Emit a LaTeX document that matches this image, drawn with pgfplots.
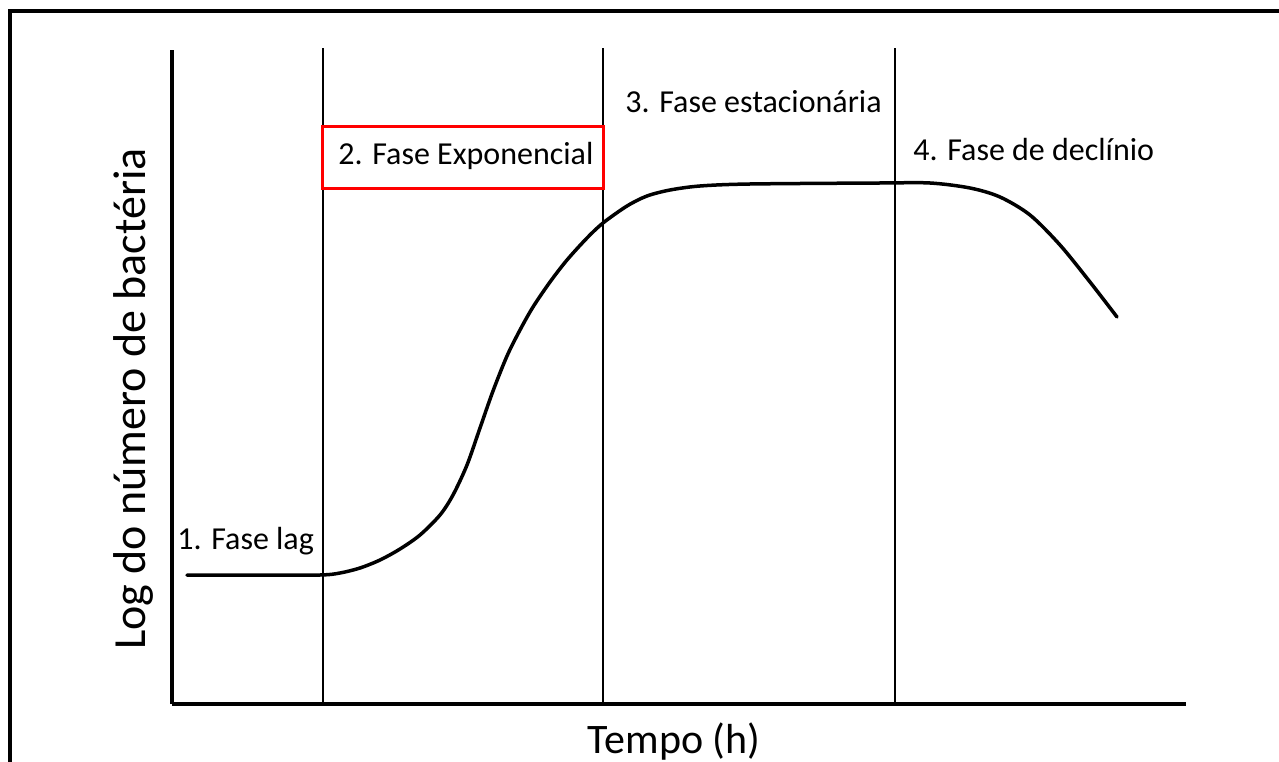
\documentclass[border=0pt]{standalone}
\usepackage{fontspec}
\setmainfont{Carlito}
\usepackage{pgfplots}
\pgfplotsset{compat=1.18}
\begin{document}
\begin{tikzpicture}
\begin{axis}[
  scale only axis,
  width=507pt, height=327pt,
  xmin=172, xmax=1186, ymin=57, ymax=711,
  axis x line=bottom, axis y line=left,
  axis line style={-, line width=1.85pt, black},
  xtick=\empty, ytick=\empty,
  clip=false,
]
\coordinate (bl) at (axis cs:0,0);
\coordinate (tr) at (axis cs:1279,761);
% phase separators
\addplot[black, line width=0.6pt] coordinates {(323,57) (323,713)};
\addplot[black, line width=0.6pt] coordinates {(603,57) (603,713)};
\addplot[black, line width=0.6pt] coordinates {(895,57) (895,713)};
% growth curve
\addplot[black, line width=1.75pt, smooth, line cap=round] coordinates {
(187,186) (260,186) (320,186) (340,188) (360,193) (380,201) (400,212)
(420,226) (440,246) (453,266) (467,296) (480,333) (493,370) (507,405)
(520,431) (533,454) (550,479) (567,501) (587,523) (603,538) (627,555)
(647,565) (670,571) (700,575) (750,577) (880,578) (930,578)
(970,573) (1000,564) (1030,546) (1060,516) (1090,479) (1117,444)};
% red box
\draw[red, line width=1.5pt] (axis cs:322,634) rectangle (axis cs:603,572);
% labels
\node[anchor=base west, font=\fontsize{16}{19}\selectfont, inner sep=0pt] at (axis cs:177,212) {1. Fase lag};
\node[anchor=base west, font=\fontsize{16}{19}\selectfont, inner sep=0pt] at (axis cs:338,596) {2. Fase Exponencial};
\node[anchor=base west, font=\fontsize{16}{19}\selectfont, inner sep=0pt] at (axis cs:625,648) {3. Fase estacionária};
\node[anchor=base west, font=\fontsize{16}{19}\selectfont, inner sep=0pt] at (axis cs:913,600) {4. Fase de declínio};
\node[anchor=base, font=\fontsize{21}{25}\selectfont, inner sep=0pt] at (axis cs:674,8) {Tempo (h)};
\node[anchor=base, rotate=90, font=\fontsize{23}{27}\selectfont, inner sep=0pt] at (axis cs:146,362) {Log do número de bactéria};
% outer frame
\draw[black, line width=1.7pt] (axis cs:10,-5) -- (axis cs:10,750) -- (axis cs:1290,750);
\end{axis}
\pgfresetboundingbox
\path[use as bounding box] (bl) rectangle (tr);
\end{tikzpicture}
\end{document}
